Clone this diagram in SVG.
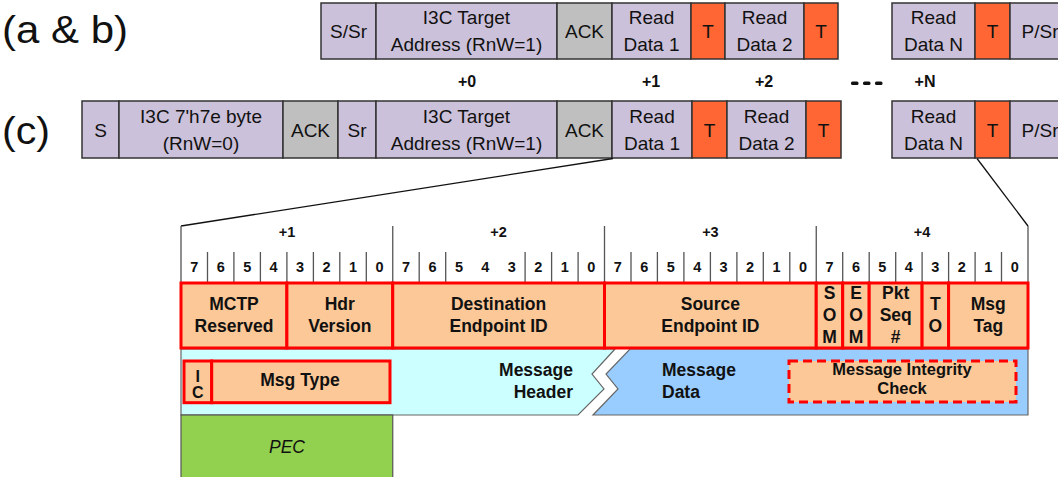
<svg xmlns="http://www.w3.org/2000/svg" width="1058" height="477" viewBox="0 0 1058 477">
  <style>
    .seg { stroke: #333333; stroke-width: 1.5; }
    .lav { fill: #CCC1DA; }
    .ack { fill: #BFBFBF; }
    .tb { fill: #FF6633; }
    .lbl { font-family: "Liberation Sans", Arial, sans-serif; font-size: 19px; fill: #111111; text-anchor: middle; }
    .big { font-family: "Liberation Sans", Arial, sans-serif; font-size: 38px; fill: #111111; }
    .off { font-family: "Liberation Sans", Arial, sans-serif; font-size: 16px; font-weight: bold; fill: #111111; text-anchor: middle; }
    .bit { font-family: "Liberation Sans", Arial, sans-serif; font-size: 14.5px; font-weight: bold; fill: #111111; text-anchor: middle; }
    .fld { fill: #FCC897; stroke: #FF0000; stroke-width: 3; }
    .ftx { font-family: "Liberation Sans", Arial, sans-serif; font-size: 17.5px; font-weight: bold; fill: #111111; text-anchor: middle; }
    .hl { stroke: #555555; stroke-width: 1.3; fill: none; }
    .zoom { stroke: #111111; stroke-width: 1.3; fill: none; }
  </style>

  <!-- row labels -->
  <text class="big" x="2" y="43" textLength="126" lengthAdjust="spacingAndGlyphs">(a &amp; b)</text>
  <text class="big" x="2" y="144" textLength="48" lengthAdjust="spacingAndGlyphs">(c)</text>

  <!-- (a & b) private read sequence -->
  <g id="row-ab">
    <g id="ab-s-sr"><rect class="seg lav" x="321" y="3" width="55" height="56"/><text class="lbl" x="348.5" y="38">S/Sr</text></g>
    <g id="ab-addr"><rect class="seg lav" x="376" y="3" width="181" height="56"/><text class="lbl" x="466.5" y="24">I3C Target</text><text class="lbl" x="466.5" y="51">Address (RnW=1)</text></g>
    <g id="ab-ack"><rect class="seg ack" x="557" y="3" width="55" height="56"/><text class="lbl" x="584.5" y="38">ACK</text></g>
    <g id="ab-rd1"><rect class="seg lav" x="612" y="3" width="79" height="56"/><text class="lbl" x="651.5" y="24">Read</text><text class="lbl" x="651.5" y="51">Data 1</text></g>
    <g id="ab-t1"><rect class="seg tb" x="691" y="3" width="34" height="56"/><text class="lbl" x="708" y="38">T</text></g>
    <g id="ab-rd2"><rect class="seg lav" x="725" y="3" width="79" height="56"/><text class="lbl" x="764.5" y="24">Read</text><text class="lbl" x="764.5" y="51">Data 2</text></g>
    <g id="ab-t2"><rect class="seg tb" x="804" y="3" width="34" height="56"/><text class="lbl" x="821" y="38">T</text></g>
    <g id="ab-rdn"><rect class="seg lav" x="892" y="3" width="83" height="56"/><text class="lbl" x="933.5" y="24">Read</text><text class="lbl" x="933.5" y="51">Data N</text></g>
    <g id="ab-tn"><rect class="seg tb" x="975" y="3" width="35" height="56"/><text class="lbl" x="992.5" y="38">T</text></g>
    <g id="ab-p-sr"><rect class="seg lav" x="1010" y="3" width="60" height="56"/><text class="lbl" x="1040" y="38">P/Sr</text></g>
  </g>

  <!-- byte offsets -->
  <g id="offsets">
    <text class="off" x="467" y="87">+0</text>
    <text class="off" x="651" y="87">+1</text>
    <text class="off" x="764" y="87">+2</text>
    <text class="off" x="925" y="87">+N</text>
    <g fill="#111111">
      <rect x="851" y="81.5" width="7.5" height="3.5" rx="1.5"/>
      <rect x="863" y="81.5" width="7.5" height="3.5" rx="1.5"/>
      <rect x="875" y="81.5" width="7.5" height="3.5" rx="1.5"/>
    </g>
  </g>

  <!-- (c) read sequence with 7'h7e prefix -->
  <g id="row-c">
    <g id="c-s"><rect class="seg lav" x="82" y="101" width="37" height="57"/><text class="lbl" x="100.5" y="137">S</text></g>
    <g id="c-bcast"><rect class="seg lav" x="119" y="101" width="164" height="57"/><text class="lbl" x="201" y="123">I3C 7'h7e byte</text><text class="lbl" x="201" y="150">(RnW=0)</text></g>
    <g id="c-ack0"><rect class="seg ack" x="283" y="101" width="55" height="57"/><text class="lbl" x="310.5" y="137">ACK</text></g>
    <g id="c-sr"><rect class="seg lav" x="338" y="101" width="38" height="57"/><text class="lbl" x="357" y="137">Sr</text></g>
    <g id="c-addr"><rect class="seg lav" x="376" y="101" width="181" height="57"/><text class="lbl" x="466.5" y="123">I3C Target</text><text class="lbl" x="466.5" y="150">Address (RnW=1)</text></g>
    <g id="c-ack1"><rect class="seg ack" x="557" y="101" width="55" height="57"/><text class="lbl" x="584.5" y="137">ACK</text></g>
    <g id="c-rd1"><rect class="seg lav" x="612" y="101" width="80" height="57"/><text class="lbl" x="652" y="123">Read</text><text class="lbl" x="652" y="150">Data 1</text></g>
    <g id="c-t1"><rect class="seg tb" x="692" y="101" width="35" height="57"/><text class="lbl" x="709.5" y="137">T</text></g>
    <g id="c-rd2"><rect class="seg lav" x="727" y="101" width="79" height="57"/><text class="lbl" x="766.5" y="123">Read</text><text class="lbl" x="766.5" y="150">Data 2</text></g>
    <g id="c-t2"><rect class="seg tb" x="806" y="101" width="35" height="57"/><text class="lbl" x="823.5" y="137">T</text></g>
    <g id="c-rdn"><rect class="seg lav" x="892" y="101" width="83" height="57"/><text class="lbl" x="933.5" y="123">Read</text><text class="lbl" x="933.5" y="150">Data N</text></g>
    <g id="c-tn"><rect class="seg tb" x="975" y="101" width="35" height="57"/><text class="lbl" x="992.5" y="137">T</text></g>
    <g id="c-p-sr"><rect class="seg lav" x="1010" y="101" width="60" height="57"/><text class="lbl" x="1040" y="137">P/Sr</text></g>
  </g>

  <!-- expansion lines from the data bytes to the packet header -->
  <g id="connectors">
    <line class="zoom" x1="613" y1="158.5" x2="181" y2="226"/>
    <line class="zoom" x1="977" y1="158.5" x2="1028" y2="226"/>
  </g>

  <!-- bit ruler -->
  <g id="bit-ruler">
    <path class="hl" d="M181 226V283 M392.75 226V283 M604.5 226V283 M816.25 226V283 M1028 226V283"/>
    <path class="hl" d="M207.5 252V282 M233.9 252V282 M260.4 252V282 M286.9 252V282 M313.4 252V282 M339.8 252V282 M366.3 252V282
                        M419.2 252V282 M445.7 252V282 M525.1 252V282 M551.6 252V282 M578.1 252V282
                        M631 252V282 M657.4 252V282 M683.9 252V282 M710.4 252V282 M736.9 252V282 M763.3 252V282 M789.8 252V282
                        M842.7 252V282 M869.2 252V282 M895.7 252V282 M922.1 252V282 M948.6 252V282 M975.1 252V282 M1001.5 252V282"/>
    <text class="bit" x="287" y="237">+1</text>
    <text class="bit" x="498.6" y="237">+2</text>
    <text class="bit" x="710.4" y="237">+3</text>
    <text class="bit" x="922.1" y="237">+4</text>
    <g>
      <text class="bit" x="194.2" y="272">7</text><text class="bit" x="220.7" y="272">6</text><text class="bit" x="247.2" y="272">5</text><text class="bit" x="273.6" y="272">4</text>
      <text class="bit" x="300.1" y="272">3</text><text class="bit" x="326.6" y="272">2</text><text class="bit" x="353.1" y="272">1</text><text class="bit" x="379.5" y="272">0</text>
      <text class="bit" x="406" y="272">7</text><text class="bit" x="432.5" y="272">6</text><text class="bit" x="459" y="272">5</text><text class="bit" x="485.4" y="272">4</text>
      <text class="bit" x="511.9" y="272">3</text><text class="bit" x="538.4" y="272">2</text><text class="bit" x="564.9" y="272">1</text><text class="bit" x="591.3" y="272">0</text>
      <text class="bit" x="617.7" y="272">7</text><text class="bit" x="644.2" y="272">6</text><text class="bit" x="670.7" y="272">5</text><text class="bit" x="697.2" y="272">4</text>
      <text class="bit" x="723.6" y="272">3</text><text class="bit" x="750.1" y="272">2</text><text class="bit" x="776.6" y="272">1</text><text class="bit" x="803.1" y="272">0</text>
      <text class="bit" x="829.5" y="272">7</text><text class="bit" x="856" y="272">6</text><text class="bit" x="882.4" y="272">5</text><text class="bit" x="908.9" y="272">4</text>
      <text class="bit" x="935.4" y="272">3</text><text class="bit" x="961.9" y="272">2</text><text class="bit" x="988.3" y="272">1</text><text class="bit" x="1014.8" y="272">0</text>
    </g>
  </g>

  <!-- lower band: message header / message data -->
  <g id="msg-header-band">
    <path d="M181 349H615L592 374L604 389L578 415H181Z" fill="#CCFFFF" stroke="#666666" stroke-width="1.2"/>
    <text class="ftx" x="573" y="376" style="text-anchor:end">Message</text>
    <text class="ftx" x="573" y="398" style="text-anchor:end">Header</text>
  </g>
  <g id="msg-data-band">
    <path d="M630 349H1028V415H593L618 389L606 374Z" fill="#99CCFF" stroke="#666666" stroke-width="1.2"/>
    <text class="ftx" x="662" y="376" style="text-anchor:start">Message</text>
    <text class="ftx" x="662" y="398" style="text-anchor:start">Data</text>
  </g>

  <!-- MCTP transport header fields -->
  <g id="f-mctp-rsvd"><rect class="fld" x="181" y="283" width="105.9" height="65"/><text class="ftx" x="234" y="310">MCTP</text><text class="ftx" x="234" y="332">Reserved</text></g>
  <g id="f-hdr-ver"><rect class="fld" x="286.9" y="283" width="105.85" height="65"/><text class="ftx" x="339.8" y="310">Hdr</text><text class="ftx" x="339.8" y="332">Version</text></g>
  <g id="f-dest-eid"><rect class="fld" x="392.75" y="283" width="211.75" height="65"/><text class="ftx" x="498.6" y="310">Destination</text><text class="ftx" x="498.6" y="332">Endpoint ID</text></g>
  <g id="f-src-eid"><rect class="fld" x="604.5" y="283" width="211.75" height="65"/><text class="ftx" x="710.4" y="310">Source</text><text class="ftx" x="710.4" y="332">Endpoint ID</text></g>
  <g id="f-som"><rect class="fld" x="816.25" y="283" width="26.45" height="65"/><text class="ftx" x="829.5" y="299">S</text><text class="ftx" x="829.5" y="321">O</text><text class="ftx" x="829.5" y="343">M</text></g>
  <g id="f-eom"><rect class="fld" x="842.7" y="283" width="26.5" height="65"/><text class="ftx" x="856" y="299">E</text><text class="ftx" x="856" y="321">O</text><text class="ftx" x="856" y="343">M</text></g>
  <g id="f-pkt-seq"><rect class="fld" x="869.2" y="283" width="52.9" height="65"/><text class="ftx" x="895.7" y="299">Pkt</text><text class="ftx" x="895.7" y="321">Seq</text><text class="ftx" x="895.7" y="343">#</text></g>
  <g id="f-to"><rect class="fld" x="922.1" y="283" width="26.5" height="65"/><text class="ftx" x="935.4" y="310">T</text><text class="ftx" x="935.4" y="332">O</text></g>
  <g id="f-msg-tag"><rect class="fld" x="948.6" y="283" width="79.4" height="65"/><text class="ftx" x="988.3" y="310">Msg</text><text class="ftx" x="988.3" y="332">Tag</text></g>

  <!-- message body fields -->
  <g id="f-ic"><rect class="fld" x="184" y="361" width="27.7" height="41.7"/><text class="ftx" x="197.8" y="382" style="font-size:16px">I</text><text class="ftx" x="197.8" y="398" style="font-size:16px">C</text></g>
  <g id="f-msg-type"><rect class="fld" x="211.7" y="361" width="178.3" height="41.7"/><text class="ftx" x="300" y="386">Msg Type</text></g>
  <g id="f-mic"><rect class="fld" x="789" y="361" width="227" height="41" stroke-dasharray="9 5"/><text class="ftx" x="902" y="375" style="font-size:16.5px">Message Integrity</text><text class="ftx" x="902" y="394" style="font-size:16.5px">Check</text></g>

  <!-- packet error code -->
  <g id="f-pec">
    <rect x="181" y="415" width="211.75" height="70" fill="#92D050" stroke="#555555" stroke-width="1.2"/>
    <text class="ftx" x="287" y="453" style="font-weight:normal;font-style:italic">PEC</text>
  </g>
</svg>
